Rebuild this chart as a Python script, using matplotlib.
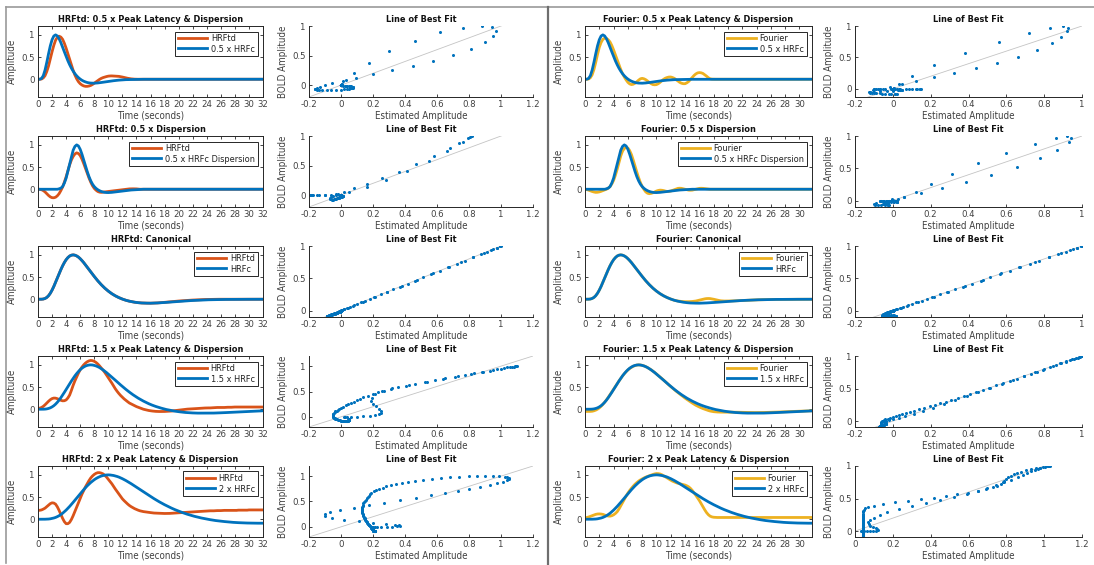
import numpy as np
import matplotlib
matplotlib.use("Agg")
import matplotlib.pyplot as plt
from matplotlib import font_manager
from matplotlib.lines import Line2D

# ---------------------------------------------------------------- fonts
_entries = font_manager.fontManager.ttflist
_has_narrow = any(f.name == "Liberation Sans Narrow" for f in _entries)
_has_condensed = any(f.name == "DejaVu Sans" and "condensed" in str(f.stretch) for f in _entries)
if _has_narrow:
    plt.rcParams["font.family"] = ["Liberation Sans Narrow", "DejaVu Sans"]
    SIZE_TITLE, SIZE_LABEL, SIZE_TICK, SIZE_LEG = 7.6, 8.0, 7.5, 7.5
elif _has_condensed:
    plt.rcParams["font.family"] = ["DejaVu Sans"]
    plt.rcParams["font.stretch"] = "condensed"
    SIZE_TITLE, SIZE_LABEL, SIZE_TICK, SIZE_LEG = 6.6, 7.0, 6.8, 6.6
else:
    plt.rcParams["font.family"] = ["Liberation Sans", "DejaVu Sans"]
    SIZE_TITLE, SIZE_LABEL, SIZE_TICK, SIZE_LEG = 6.9, 7.0, 7.0, 6.8
plt.rcParams["axes.unicode_minus"] = False

# ---------------------------------------------------------------- data
# sample times (seconds), 0.25 s resolution, 0 .. 32 s
time_s = np.arange(129) * 0.25

# BOLD reference responses: canonical HRF (HRFc) and its variants
hrfc_canon = [0.000, 0.000, 0.001, 0.005, 0.018, 0.041, 0.080, 0.135, 0.206, 0.289,
              0.381, 0.478, 0.574, 0.667, 0.753, 0.828, 0.891, 0.939, 0.974, 0.993,
              1.000, 0.993, 0.976, 0.950, 0.914, 0.872, 0.826, 0.775, 0.725, 0.672,
              0.618, 0.565, 0.514, 0.464, 0.416, 0.371, 0.328, 0.288, 0.250, 0.215,
              0.183, 0.153, 0.125, 0.100, 0.077, 0.056, 0.037, 0.020, 0.004, -0.010,
              -0.023, -0.034, -0.044, -0.052, -0.060, -0.067, -0.073, -0.077, -0.081, -0.084,
              -0.086, -0.087, -0.088, -0.089, -0.089, -0.088, -0.087, -0.085, -0.083, -0.081,
              -0.079, -0.076, -0.073, -0.070, -0.067, -0.064, -0.061, -0.058, -0.055, -0.052,
              -0.049, -0.046, -0.043, -0.040, -0.038, -0.035, -0.033, -0.030, -0.028, -0.026,
              -0.024, -0.022, -0.020, -0.018, -0.017, -0.015, -0.014, -0.012, -0.011, -0.010,
              -0.009, -0.008, -0.008, -0.007, -0.006, -0.005, -0.005, -0.004, -0.004, -0.003,
              -0.003, -0.003, -0.003, -0.002, -0.002, -0.002, -0.002, -0.001, -0.001, -0.001,
              -0.001, -0.001, -0.001, 0.000, 0.000, 0.000, 0.000, 0.000, 0.000]
hrfc_half = [0.000, 0.001, 0.018, 0.080, 0.206, 0.381, 0.574, 0.753, 0.891, 0.974,
             1.000, 0.976, 0.914, 0.826, 0.725, 0.618, 0.514, 0.416, 0.328, 0.250,
             0.183, 0.125, 0.077, 0.037, 0.004, -0.023, -0.044, -0.060, -0.073, -0.081,
             -0.086, -0.088, -0.089, -0.087, -0.083, -0.079, -0.073, -0.067, -0.061, -0.055,
             -0.049, -0.043, -0.038, -0.033, -0.028, -0.024, -0.020, -0.017, -0.014, -0.011,
             -0.009, -0.008, -0.006, -0.005, -0.004, -0.003, -0.003, -0.002, -0.002, -0.001,
             -0.001, -0.001] + [0.000] * 67
hrfc_disp = [0.000] * 12 + [
             0.010, 0.025, 0.060, 0.140, 0.250, 0.410, 0.580, 0.740, 0.880, 0.965,
             1.000, 0.975, 0.900, 0.790, 0.660, 0.525, 0.400, 0.285, 0.190, 0.115,
             0.060, 0.020, -0.010, -0.033, -0.050, -0.062, -0.070, -0.074, -0.075, -0.073,
             -0.070, -0.065, -0.060, -0.055, -0.050, -0.045, -0.040, -0.035, -0.030, -0.025,
             -0.020, -0.017, -0.015, -0.012, -0.010, -0.007, -0.005, -0.002] + [0.000] * 69
hrfc_1p5 = [0.000, 0.000, 0.000, 0.001, 0.003, 0.008, 0.018, 0.032, 0.053, 0.080,
            0.115, 0.157, 0.206, 0.260, 0.320, 0.381, 0.445, 0.510, 0.574, 0.636,
            0.696, 0.753, 0.804, 0.850, 0.891, 0.925, 0.952, 0.974, 0.988, 0.997,
            1.000, 0.997, 0.988, 0.976, 0.959, 0.939, 0.914, 0.887, 0.857, 0.826,
            0.792, 0.759, 0.725, 0.690, 0.654, 0.618, 0.583, 0.548, 0.514, 0.481,
            0.448, 0.416, 0.386, 0.356, 0.328, 0.301, 0.275, 0.250, 0.227, 0.204,
            0.183, 0.163, 0.144, 0.125, 0.108, 0.092, 0.077, 0.063, 0.050, 0.037,
            0.026, 0.015, 0.004, -0.006, -0.014, -0.023, -0.030, -0.037, -0.044, -0.050,
            -0.055, -0.060, -0.065, -0.069, -0.073, -0.076, -0.078, -0.081, -0.083, -0.085,
            -0.086, -0.087, -0.087, -0.088, -0.089, -0.089, -0.089, -0.088, -0.088, -0.087,
            -0.086, -0.084, -0.083, -0.082, -0.080, -0.079, -0.077, -0.075, -0.073, -0.071,
            -0.069, -0.067, -0.065, -0.063, -0.061, -0.059, -0.057, -0.055, -0.053, -0.051,
            -0.049, -0.047, -0.045, -0.043, -0.041, -0.040, -0.038, -0.036, -0.035]
hrfc_2 = [0.000, 0.000, 0.000, 0.000, 0.001, 0.003, 0.005, 0.010, 0.018, 0.028,
          0.041, 0.059, 0.080, 0.106, 0.135, 0.169, 0.206, 0.246, 0.289, 0.334,
          0.381, 0.429, 0.478, 0.526, 0.574, 0.621, 0.667, 0.711, 0.753, 0.792,
          0.828, 0.861, 0.891, 0.917, 0.939, 0.958, 0.974, 0.985, 0.993, 0.998,
          1.000, 0.998, 0.993, 0.986, 0.976, 0.964, 0.950, 0.933, 0.914, 0.894,
          0.872, 0.849, 0.826, 0.801, 0.775, 0.750, 0.725, 0.699, 0.672, 0.645,
          0.618, 0.591, 0.565, 0.539, 0.514, 0.489, 0.464, 0.440, 0.416, 0.393,
          0.371, 0.349, 0.328, 0.308, 0.288, 0.269, 0.250, 0.232, 0.215, 0.199,
          0.183, 0.168, 0.153, 0.139, 0.125, 0.112, 0.100, 0.088, 0.077, 0.066,
          0.056, 0.046, 0.037, 0.028, 0.020, 0.012, 0.004, -0.003, -0.010, -0.017,
          -0.023, -0.029, -0.034, -0.039, -0.044, -0.048, -0.052, -0.056, -0.060, -0.064,
          -0.067, -0.070, -0.073, -0.075, -0.077, -0.079, -0.081, -0.083, -0.084, -0.085,
          -0.086, -0.087, -0.087, -0.088, -0.088, -0.089, -0.089, -0.089, -0.089]

# HRFtd estimates
hrftd_half = [0.000, 0.000, 0.005, 0.030, 0.080, 0.175, 0.300, 0.460, 0.620, 0.765,
              0.880, 0.945, 0.970, 0.950, 0.900, 0.810, 0.700, 0.575, 0.450, 0.320,
              0.200, 0.095, 0.010, -0.055, -0.100, -0.130, -0.150, -0.160, -0.160, -0.153,
              -0.140, -0.118, -0.090, -0.060, -0.030, -0.003, 0.020, 0.037, 0.050, 0.061,
              0.070, 0.074, 0.075, 0.073, 0.070, 0.068, 0.065, 0.058, 0.050, 0.040,
              0.030, 0.022, 0.015, 0.009, 0.005, 0.002] + [0.000] * 73
hrftd_disp = [0.000, -0.002, -0.010, -0.030, -0.060, -0.100, -0.140, -0.172, -0.190, -0.192,
              -0.180, -0.148, -0.100, -0.030, 0.050, 0.160, 0.280, 0.415, 0.550, 0.660,
              0.740, 0.795, 0.820, 0.805, 0.760, 0.680, 0.580, 0.470, 0.360, 0.255,
              0.160, 0.080, 0.020, -0.020, -0.050, -0.065, -0.070, -0.066, -0.060, -0.055,
              -0.050, -0.045, -0.040, -0.035, -0.030, -0.025, -0.020, -0.015, -0.010, -0.005,
              0.000, 0.005, 0.008, 0.010, 0.010, 0.010, 0.008, 0.004, 0.000] + [0.000] * 70
hrftd_canon = hrfc_canon[:65] + [
               -0.088, -0.087, -0.085, -0.083, -0.080, -0.077, -0.074, -0.070, -0.066, -0.062,
               -0.058, -0.054, -0.050, -0.047, -0.043, -0.040, -0.037, -0.034, -0.031, -0.028,
               -0.025, -0.023, -0.020, -0.018, -0.016, -0.014, -0.012, -0.010, -0.008, -0.007,
               -0.006, -0.005, -0.004, -0.003, -0.002, -0.002, -0.001, -0.001, 0.000] + [0.000] * 25
hrftd_1p5 = [0.020, 0.025, 0.040, 0.065, 0.100, 0.140, 0.180, 0.215, 0.240, 0.252,
             0.250, 0.238, 0.220, 0.202, 0.190, 0.192, 0.210, 0.255, 0.320, 0.425,
             0.540, 0.640, 0.730, 0.815, 0.890, 0.950, 1.000, 1.040, 1.070, 1.090,
             1.100, 1.095, 1.080, 1.055, 1.020, 0.978, 0.930, 0.882, 0.830, 0.772,
             0.710, 0.650, 0.590, 0.525, 0.460, 0.405, 0.355, 0.310, 0.270, 0.233,
             0.200, 0.170, 0.140, 0.120, 0.100, 0.080, 0.060, 0.045, 0.030, 0.015,
             0.000, -0.010, -0.020, -0.028, -0.035, -0.040, -0.045, -0.048, -0.050, -0.051,
             -0.051, -0.050, -0.050, -0.048, -0.045, -0.043, -0.040, -0.035, -0.030, -0.025,
             -0.020, -0.015, -0.010, -0.005, 0.000, 0.003, 0.005, 0.008, 0.010, 0.013,
             0.015, 0.018, 0.020, 0.023, 0.025, 0.028, 0.030, 0.030, 0.030, 0.033,
             0.035, 0.038, 0.040, 0.040, 0.040, 0.040, 0.040, 0.043, 0.045, 0.045,
             0.045, 0.048] + [0.050] * 17
hrftd_2 = [0.200, 0.202, 0.210, 0.228, 0.250, 0.285, 0.320, 0.352, 0.370, 0.365,
           0.340, 0.280, 0.200, 0.110, 0.020, -0.055, -0.100, -0.100, -0.070, -0.005,
           0.080, 0.175, 0.270, 0.370, 0.470, 0.565, 0.650, 0.730, 0.800, 0.870,
           0.930, 0.975, 1.010, 1.035, 1.050, 1.050, 1.040, 1.022, 0.990, 0.950,
           0.900, 0.852, 0.800, 0.740, 0.680, 0.625, 0.570, 0.515, 0.460, 0.418,
           0.380, 0.343, 0.310, 0.283, 0.260, 0.238, 0.220, 0.204, 0.190, 0.180,
           0.172, 0.166, 0.160, 0.155, 0.150, 0.145, 0.140, 0.138, 0.135, 0.132,
           0.130, 0.130, 0.130, 0.130, 0.130, 0.132, 0.135, 0.138, 0.140, 0.143,
           0.145, 0.148, 0.150, 0.153, 0.155, 0.158, 0.160, 0.163, 0.165, 0.168,
           0.170, 0.173, 0.175, 0.178, 0.180, 0.183, 0.185, 0.188, 0.190, 0.190,
           0.190, 0.193, 0.195, 0.195, 0.195, 0.198, 0.200] + [0.200] * 7 + [0.205] * 6 + [0.210] * 9

# Fourier-basis estimates
fourier_half = [0.000, 0.000, 0.005, 0.035, 0.100, 0.220, 0.380, 0.560, 0.720, 0.830,
                0.900, 0.925, 0.920, 0.890, 0.840, 0.760, 0.660, 0.550, 0.440, 0.325,
                0.220, 0.125, 0.050, -0.015, -0.070, -0.105, -0.120, -0.112, -0.090, -0.055,
                -0.020, 0.010, 0.020, 0.010, -0.010, -0.040, -0.070, -0.100, -0.120, -0.125,
                -0.120, -0.100, -0.070, -0.033, 0.000, 0.025, 0.040, 0.050, 0.050, 0.038,
                0.020, -0.010, -0.040, -0.070, -0.090, -0.100, -0.100, -0.080, -0.050, -0.005,
                0.040, 0.085, 0.120, 0.143, 0.150, 0.145, 0.130, 0.100, 0.070, 0.035,
                0.010, 0.002] + [0.000] * 57
fourier_disp = [0.000, -0.008, -0.020, -0.035, -0.050, -0.062, -0.070, -0.068, -0.060, -0.047,
                -0.030, -0.015, 0.000, 0.025, 0.060, 0.120, 0.200, 0.315, 0.450, 0.600,
                0.750, 0.860, 0.920, 0.940, 0.930, 0.870, 0.780, 0.655, 0.520, 0.385,
                0.260, 0.150, 0.060, -0.005, -0.060, -0.090, -0.100, -0.093, -0.080, -0.060,
                -0.040, -0.027, -0.020, -0.023, -0.030, -0.042, -0.050, -0.047, -0.040, -0.025,
                -0.010, 0.007, 0.020, 0.023, 0.020, 0.010, 0.000, -0.012, -0.020, -0.022,
                -0.020, -0.010, 0.000, 0.012, 0.020, 0.022, 0.020, 0.015, 0.010, 0.005,
                0.000] + [0.000] * 58
fourier_canon = hrfc_canon[:49] + [
                 -0.011, -0.025, -0.033, -0.040, -0.046, -0.050, -0.053, -0.055, -0.056, -0.055,
                 -0.053, -0.050, -0.046, -0.040, -0.031, -0.020, -0.010, 0.000, 0.009, 0.015,
                 0.017, 0.015, 0.008, 0.000, -0.010, -0.020, -0.028, -0.035, -0.038, -0.040,
                 -0.040, -0.040, -0.039, -0.038, -0.037, -0.035, -0.033, -0.032, -0.030, -0.028,
                 -0.026, -0.024, -0.022, -0.020, -0.018, -0.017, -0.015, -0.014, -0.012, -0.011,
                 -0.010] + hrfc_canon[100:]
fourier_1p5 = [-0.050, -0.050, -0.050, -0.048, -0.045, -0.035, -0.020, 0.002, 0.030, 0.066,
               0.110, 0.158, 0.210, 0.268, 0.328, 0.390, 0.450, 0.512, 0.575, 0.636,
               0.695, 0.750, 0.800, 0.845, 0.885, 0.918, 0.945, 0.968, 0.985, 0.995,
               1.000, 0.997, 0.990, 0.977, 0.960, 0.939, 0.915, 0.889, 0.860, 0.829,
               0.795, 0.762, 0.728, 0.692, 0.655, 0.618, 0.582, 0.546, 0.510, 0.475,
               0.440, 0.407, 0.375, 0.342, 0.310, 0.280, 0.250, 0.222, 0.195, 0.167,
               0.140, 0.114, 0.090, 0.069, 0.050, 0.032, 0.015, 0.000, -0.015, -0.028,
               -0.040, -0.048, -0.055, -0.059, -0.062, -0.064, -0.065, -0.065, -0.065, -0.065,
               -0.065, -0.065, -0.065, -0.065, -0.066, -0.067, -0.068, -0.069, -0.070, -0.071,
               -0.072, -0.073, -0.074, -0.075, -0.075, -0.075, -0.075, -0.075, -0.074, -0.074,
               -0.073, -0.072, -0.071, -0.070, -0.069, -0.068, -0.066, -0.065, -0.063, -0.062,
               -0.060, -0.059, -0.057, -0.056, -0.054, -0.052, -0.050, -0.049, -0.047, -0.046,
               -0.044, -0.043, -0.041, -0.040, -0.038, -0.037, -0.036, -0.036, -0.035]
fourier_2 = [0.030, 0.040, 0.050, 0.065, 0.080, 0.096, 0.110, 0.118, 0.120, 0.117,
             0.110, 0.095, 0.080, 0.072, 0.070, 0.080, 0.100, 0.130, 0.170, 0.230,
             0.300, 0.375, 0.450, 0.522, 0.590, 0.648, 0.700, 0.747, 0.790, 0.827,
             0.860, 0.887, 0.910, 0.931, 0.950, 0.966, 0.980, 0.995, 1.010, 1.022,
             1.030, 1.028, 1.020, 1.003, 0.980, 0.955, 0.930, 0.905, 0.880, 0.858,
             0.840, 0.824, 0.810, 0.800, 0.790, 0.781, 0.770, 0.752, 0.730, 0.695,
             0.650, 0.597, 0.540, 0.482, 0.420, 0.350, 0.280, 0.212, 0.150, 0.103,
             0.070, 0.053, 0.045, 0.042] + [0.040] * 55

bold_curves = [hrfc_half, hrfc_disp, hrfc_canon, hrfc_1p5, hrfc_2]
bold_labels = ["0.5 x HRFc", "0.5 x HRFc Dispersion", "HRFc", "1.5 x HRFc", "2 x HRFc"]
condition_titles = ["0.5 x Peak Latency & Dispersion", "0.5 x Dispersion", "Canonical",
                    "1.5 x Peak Latency & Dispersion", "2 x Peak Latency & Dispersion"]
hrftd_curves = [hrftd_half, hrftd_disp, hrftd_canon, hrftd_1p5, hrftd_2]
fourier_curves = [fourier_half, fourier_disp, fourier_canon, fourier_1p5, fourier_2]

time_ticks_left = list(range(0, 33, 2))
time_ticks_right = list(range(0, 31, 2))
amp_ticks = [0, 0.5, 1]
fit_ticks_wide = [-0.2, 0, 0.2, 0.4, 0.6, 0.8, 1, 1.2]
fit_ticks_narrow = [-0.2, 0, 0.2, 0.4, 0.6, 0.8, 1]
fit_ticks_pos = [0, 0.2, 0.4, 0.6, 0.8, 1, 1.2]

# ---------------------------------------------------------------- style
BLUE = "#0072BD"
ORANGE = "#D95319"
YELLOW = "#EDB120"
INK = "#262626"
TICK_INK = "#404040"

W, H = 1094, 565
fig = plt.figure(figsize=(W / 100, H / 100), dpi=100)
fig.patch.set_facecolor("white")


def px_axes(x0, y0, x1, y1):
    return fig.add_axes([x0 / W, 1 - y1 / H, (x1 - x0) / W, (y1 - y0) / H])


def fmt(v):
    return "0" if v == 0 else f"{v:g}"


def style_axes(ax, box):
    for side in ("top", "right"):
        ax.spines[side].set_visible(box)
    for sp in ax.spines.values():
        sp.set_linewidth(0.7)
        sp.set_color(INK)
    ax.tick_params(direction="in", length=2.5, width=0.6, color=INK,
                   labelsize=SIZE_TICK, labelcolor=TICK_INK, pad=2.5,
                   top=box, right=box)


col_x = [(38, 263), (309, 533), (585, 812), (855, 1082)]
row_y = [(26, 97), (136, 207), (246, 317), (356, 427), (466, 537)]

fit_xlims = [[(-0.2, 1.2)] * 5, [(-0.2, 1.0)] * 4 + [(0.0, 1.2)]]
fit_xticks = [[fit_ticks_wide] * 5, [fit_ticks_narrow] * 4 + [fit_ticks_pos]]
fit_ylims = [[(-0.2, 1.0), (-0.2, 1.0), (-0.1, 1.0), (-0.2, 1.2), (-0.2, 1.2)],
             [(-0.13, 1.0), (-0.1, 1.0), (-0.1, 1.0), (-0.09, 1.0), (-0.09, 1.0)]]

methods = [("HRFtd", hrftd_curves, ORANGE, 32, time_ticks_left),
           ("Fourier", fourier_curves, YELLOW, 31.75, time_ticks_right)]

for half, (name, est_curves, est_color, t_end, t_ticks) in enumerate(methods):
    for r in range(5):
        est = np.asarray(est_curves[r])
        bold = np.asarray(bold_curves[r])
        y0, y1 = row_y[r]

        # time course panel
        x0, x1 = col_x[2 * half]
        ax = px_axes(x0, y0, x1, y1)
        ax.plot(time_s, est, color=est_color, lw=2.0, label=name)
        ax.plot(time_s, bold, color=BLUE, lw=2.0, label=bold_labels[r])
        ax.set_xlim(0, t_end)
        ax.set_ylim(-0.4, 1.2)
        ax.set_xticks(t_ticks)
        ax.set_xticklabels([str(v) for v in t_ticks])
        ax.set_yticks(amp_ticks)
        ax.set_yticklabels([fmt(v) for v in amp_ticks])
        style_axes(ax, True)
        ax.set_title(f"{name}: {condition_titles[r]}", fontsize=SIZE_TITLE, fontweight="bold",
                     color="#111111", pad=3)
        ax.set_xlabel("Time (seconds)", fontsize=SIZE_LABEL, color=TICK_INK, labelpad=1)
        ax.set_ylabel("Amplitude", fontsize=SIZE_LABEL, color=TICK_INK, labelpad=3)
        leg = ax.legend(loc="upper right", fontsize=SIZE_LEG, handlelength=3.2,
                        handletextpad=0.4, borderpad=0.3, labelspacing=0.15,
                        borderaxespad=0.6, fancybox=False, framealpha=1)
        leg.get_frame().set_edgecolor(INK)
        leg.get_frame().set_linewidth(0.7)
        for txt in leg.get_texts():
            txt.set_color("#222222")

        # estimated vs BOLD amplitude panel
        x0, x1 = col_x[2 * half + 1]
        ax = px_axes(x0, y0, x1, y1)
        lo, hi = fit_xlims[half][r]
        ax.plot([lo, hi], [lo, hi], color="#c4c4c4", lw=0.6, zorder=1)
        ax.plot(est, bold, "o", ms=2.2, mew=0, color=BLUE, zorder=2)
        ax.set_xlim(lo, hi)
        ax.set_ylim(*fit_ylims[half][r])
        ax.set_xticks(fit_xticks[half][r])
        ax.set_xticklabels([fmt(v) for v in fit_xticks[half][r]])
        ax.set_yticks(amp_ticks)
        ax.set_yticklabels([fmt(v) for v in amp_ticks])
        style_axes(ax, False)
        ax.set_title("Line of Best Fit", fontsize=SIZE_TITLE, fontweight="bold",
                     color="#111111", pad=3)
        ax.set_xlabel("Estimated Amplitude", fontsize=SIZE_LABEL, color=TICK_INK, labelpad=1)
        ax.set_ylabel("BOLD Amplitude", fontsize=SIZE_LABEL, color=TICK_INK, labelpad=3)

# panel frames and divider
frame_kw = dict(transform=fig.transFigure, color="#9a9a9a", lw=1.2)
fig.add_artist(Line2D([6 / W, 1], [1 - 7 / H, 1 - 7 / H], **frame_kw))
fig.add_artist(Line2D([6 / W, 6 / W], [1 - 7 / H, 1 - 563 / H], **frame_kw))
fig.add_artist(Line2D([548 / W, 548 / W], [1 - 7 / H, 0], transform=fig.transFigure,
                      color="#6e6e6e", lw=1.6))

fig.savefig("out.png", dpi=100, facecolor="white")
